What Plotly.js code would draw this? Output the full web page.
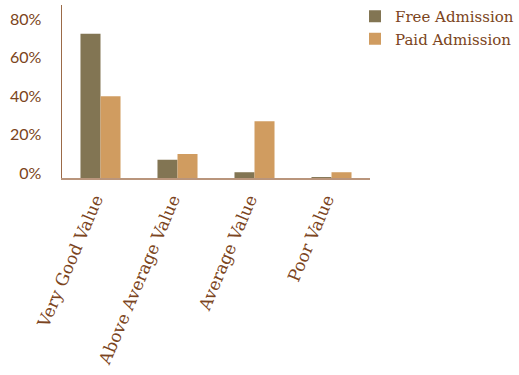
<!DOCTYPE html>
<html>
<head>
<meta charset="utf-8">
<script src="https://cdn.plot.ly/plotly-3.0.1.min.js"></script>
<style>html,body{margin:0;padding:0;background:#fff;}#chart{width:519px;height:375px;}</style>
</head>
<body>
<div id="chart"></div>
<script>
var categories = ["Very Good Value", "Above Average Value", "Average Value", "Poor Value"];
var freeAdmission = [75, 9.5, 3, 0.5];
var paidAdmission = [42.5, 12.5, 29.5, 3];
var yTickValues = [0, 20, 40, 60, 80];
var yTickLabels = ["0%", "20%", "40%", "60%", "80%"];

var textColor = "#7b4420";
var fontFamily = "'DejaVu Serif', serif";

var traces = [
  {type: "bar", name: "Free Admission", x: categories, y: freeAdmission,
   marker: {color: "#827553"}},
  {type: "bar", name: "Paid Admission", x: categories, y: paidAdmission,
   marker: {color: "#d09c60"}}
];

var layout = {
  width: 519, height: 375,
  margin: {l: 62, r: 149, t: 5, b: 197, pad: 0, autoexpand: false},
  paper_bgcolor: "#ffffff", plot_bgcolor: "#ffffff",
  font: {family: fontFamily, color: textColor, size: 15},
  barmode: "group", bargap: 0.48, bargroupgap: 0,
  showlegend: true,
  legend: {x: 355 / 519, xanchor: "left", y: 1.008, yanchor: "top", xref: "container", yref: "container",
           font: {size: 15, color: textColor, family: fontFamily}, tracegroupgap: 2,
           itemwidth: 30},
  xaxis: {range: [-0.5, 3.5], showgrid: false, zeroline: false, showline: true, automargin: false,
          linecolor: "#b9957c", linewidth: 2, ticks: "", tickangle: -67,
          ticklabelstandoff: 3, ticklabelshift: -5,
          tickfont: {size: 17, color: textColor, family: fontFamily}},
  yaxis: {range: [0, 90], showgrid: false, zeroline: false, showline: true, automargin: false,
          linecolor: "#9b6a48", linewidth: 1.5, ticks: "",
          tickvals: yTickValues, ticktext: yTickLabels, ticklabelshift: -5,
          ticklabelstandoff: 16,
          tickfont: {size: 16, color: textColor, family: "Lato, sans-serif"}}
};

Plotly.newPlot("chart", traces, layout, {displayModeBar: false, staticPlot: true});
</script>
</body>
</html>
